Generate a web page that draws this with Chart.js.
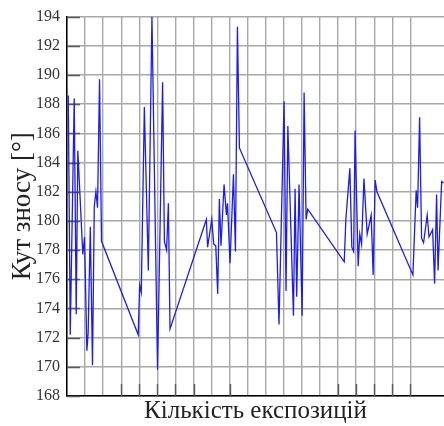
<!DOCTYPE html>
<html>
<head>
<meta charset="utf-8">
<script src="https://cdn.jsdelivr.net/npm/chart.js@4/dist/chart.umd.min.js"></script>
<style>
  html, body { margin: 0; padding: 0; background: #fff; overflow: hidden; }
  #wrap { position: relative; width: 444px; height: 426px; }
</style>
</head>
<body>
<div id="wrap"><canvas id="chart"></canvas></div>
<script>
// Exposure index (x) and drift angle in degrees (y)
const exposureIndex = [
  0.7, 1.8, 4.0, 5.1, 6.0, 8.75, 9.7, 11.0, 11.7, 12.9, 14.1, 15.1, 16.0, 16.9, 18.0, 19.1,
  39.4, 40.2, 41.1, 42.8, 45.0, 47.0, 50.1, 52.9, 53.9, 55.1, 56.1, 57.0,
  77.1, 77.8, 80.1, 81.2, 82.3, 83.4, 84.3, 85.2, 86.9, 88.2, 88.8, 90.2, 92.1, 93.2, 94.3, 95.4,
  115.9, 117.3, 120.1, 121.2, 122.2, 125.3, 126.2, 127.1, 128.4, 130.1, 131.2, 132.3, 133.2,
  153.4, 154.3, 156.5, 157.6, 158.6, 159.4, 161.1, 162.0, 163.0, 164.3, 166.1, 168.3, 169.4, 170.5, 171.5,
  191.4, 193.2, 194.0, 195.1, 196.2, 197.3, 199.3, 200.3, 202.3, 203.4, 204.5, 205.3, 207.3, 208.4
];
const driftAngle = [
  188.6, 172.2, 188.4, 173.6, 184.8, 177.7, 178.9, 171.1, 172.3, 179.6, 170.1, 181.0, 182.0, 180.9, 189.7, 178.6,
  172.2, 175.6, 175.1, 187.8, 176.6, 194.0, 169.8, 189.5, 178.6, 178.0, 181.2, 172.6,
  180.1, 178.2, 180.1, 178.4, 178.3, 175.0, 181.5, 178.3, 182.5, 180.4, 181.2, 177.1, 183.2, 177.9, 193.3, 185.0,
  179.2, 172.9, 188.2, 175.2, 186.5, 173.5, 182.2, 174.8, 182.5, 173.5, 188.8, 180.1, 180.8,
  177.2, 180.1, 183.6, 178.2, 177.9, 186.2, 176.9, 179.1, 178.4, 182.9, 179.1, 180.4, 176.3, 182.8, 182.0,
  176.3, 182.1, 180.9, 187.1, 178.8, 178.5, 180.4, 178.9, 179.4, 175.7, 181.8, 176.6, 182.7, 182.6
];
const yTickMin = 168;
const yTickMax = 194;
const yTickStep = 2;
const xGridStep = 10;
const xMax = 208.6;
// x positions that carry a short tick mark on the bottom axis
const xTickMarks = [30, 40, 50, 60, 70, 90, 150, 160, 170, 180, 190];

const points = exposureIndex.map((x, i) => ({ x: x, y: driftAngle[i] }));

// short dark tick marks drawn inside the plot along both axes
const innerTicks = {
  id: 'innerTicks',
  beforeDatasetsDraw(chart) {
    const { ctx, chartArea, scales } = chart;
    ctx.save();
    ctx.strokeStyle = '#5a5a5a';
    ctx.lineWidth = 1.4;
    ctx.beginPath();
    scales.y.ticks.forEach(t => {
      const py = Math.round(scales.y.getPixelForValue(t.value)) + 0.5;
      ctx.moveTo(chartArea.left, py);
      ctx.lineTo(chartArea.left + 13, py);
    });
    xTickMarks.forEach(v => {
      const px = Math.round(scales.x.getPixelForValue(v)) + 0.5;
      ctx.moveTo(px, chartArea.bottom);
      ctx.lineTo(px, chartArea.bottom - 12);
    });
    ctx.stroke();
    ctx.restore();
  }
};

const serif = '"Liberation Serif", "Times New Roman", serif';

new Chart(document.getElementById('chart'), {
  type: 'line',
  data: {
    datasets: [{
      data: points,
      borderColor: 'rgb(28,28,235)',
      borderWidth: 1.3,
      pointRadius: 0,
      tension: 0,
      fill: false
    }]
  },
  options: {
    responsive: true,
    maintainAspectRatio: false,
    animation: false,
    layout: { padding: { top: 8, right: 0, bottom: 0, left: 0 } },
    plugins: { legend: { display: false }, tooltip: { enabled: false } },
    scales: {
      x: {
        type: 'linear',
        min: 0,
        max: xMax,
        afterBuildTicks(scale) {
          scale.ticks = scale.ticks.filter(t => Math.abs(t.value % xGridStep) < 1e-6);
        },
        afterFit(scale) { scale.height = 30; },
        ticks: { display: false, stepSize: xGridStep },
        grid: { color: '#a8a8a8', lineWidth: 1.4, drawTicks: false },
        border: { color: '#000', width: 1.5 },
        title: {
          display: true,
          text: 'Кількість експозицій',
          color: '#222',
          font: { family: serif, size: 25 },
          padding: { top: 0, bottom: 0 }
        }
      },
      y: {
        min: yTickMin,
        max: yTickMax,
        afterFit(scale) { scale.width = 67; },
        ticks: {
          stepSize: yTickStep,
          color: '#333',
          padding: 7,
          font: { family: serif, size: 16 }
        },
        grid: { color: '#a8a8a8', lineWidth: 1.4, drawTicks: false },
        border: { color: '#000', width: 1.5 },
        title: {
          display: true,
          text: 'Кут зносу [°]',
          color: '#222',
          font: { family: serif, size: 27 },
          padding: { top: 7, bottom: 0 }
        }
      }
    }
  },
  plugins: [innerTicks]
});
</script>
</body>
</html>
